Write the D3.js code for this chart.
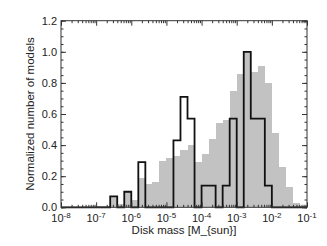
<!DOCTYPE html>
<html>
<head>
<meta charset="utf-8">
<script src="https://cdn.jsdelivr.net/npm/d3@7"></script>
<style>
  body { margin: 0; background: #fff; }
  text { font-family: "Liberation Sans", Arial, sans-serif; fill: #222; }
</style>
</head>
<body>
<script>
// bin left edges (log10 of disk mass), bins are 0.2 dex wide
let binLeft = [-8.0, -7.8, -7.6, -7.4, -7.2, -7.0, -6.8, -6.6, -6.4, -6.2,
               -6.0, -5.8, -5.6, -5.4, -5.2, -5.0, -4.8, -4.6, -4.4, -4.2,
               -4.0, -3.8, -3.6, -3.4, -3.2, -3.0, -2.8, -2.6, -2.4, -2.2,
               -2.0, -1.8, -1.6, -1.4, -1.2]
let binWidth = 0.2

// filled grey histogram
let greyValues = [0, 0, 0, 0, 0, 0.01, 0.01, 0.07, 0.02, 0.10,
                  0.05, 0.19, 0.15, 0.16, 0.30, 0.32, 0.33, 0.37, 0.40, 0.29,
                  0.34, 0.44, 0.54, 0.56, 0.75, 0.86, 1.00, 0.87, 0.91, 0.80,
                  0.48, 0.26, 0.13, 0.03, 0.01]

// black outline histogram
let blackValues = [0, 0, 0, 0, 0, 0, 0, 0.07, 0, 0.10,
                   0, 0.29, 0, 0, 0, 0, 0.43, 0.71, 0.57, 0,
                   0.14, 0.14, 0, 0.14, 0.57, 0, 1.00, 0.57, 0.57, 0.14,
                   0, 0, 0, 0, 0]

let xDecades = [1e-8, 1e-7, 1e-6, 1e-5, 1e-4, 1e-3, 1e-2, 1e-1]
let xExponents = ["-8", "-7", "-6", "-5", "-4", "-3", "-2", "-1"]
let yTicks = [0, 0.2, 0.4, 0.6, 0.8, 1.0, 1.2]
let xTitle = "Disk mass [M_{sun}]"
let yTitle = "Normalized number of models"

let width = 327, height = 246
let margin = { top: 20.7, left: 61, right: 20, bottom: 38.7 }

let svg = d3.select("body")
  .append("svg")
  .attr("width", width)
  .attr("height", height)

let x = d3.scaleLog().domain([1e-8, 1e-1]).range([margin.left, width - margin.right])
let y = d3.scaleLinear().domain([0, 1.2]).range([height - margin.bottom, margin.top])

// grey bars
svg.append("g")
  .selectAll("rect")
  .data(binLeft)
  .join("rect")
  .attr("x", d => x(Math.pow(10, d)))
  .attr("width", d => x(Math.pow(10, d + binWidth)) - x(Math.pow(10, d)))
  .attr("y", (d, i) => y(greyValues[i]))
  .attr("height", (d, i) => y(0) - y(greyValues[i]))
  .attr("fill", "#c2c2c2")
  .attr("shape-rendering", "crispEdges")

// black step outline
let steps = binLeft.map((d, i) => [d, blackValues[i]])
steps.push([binLeft[binLeft.length - 1] + binWidth, blackValues[blackValues.length - 1]])
let stepLine = d3.line()
  .x(d => x(Math.pow(10, d[0])))
  .y(d => y(d[1]))
  .curve(d3.curveStepAfter)

svg.append("path")
  .datum(steps)
  .attr("d", stepLine)
  .attr("fill", "none")
  .attr("stroke", "#111")
  .attr("stroke-width", 1.8)

// minor ticks
let xMinor = []
xDecades.slice(0, -1).forEach(d => {
  for (let k = 2; k <= 9; k++) xMinor.push(d * k)
})
let yMinor = d3.range(0, 1.2001, 0.05)

function styleAxis(g) {
  g.select(".domain").remove()
  g.selectAll("line").attr("stroke", "#333")
  g.selectAll("text").remove()
}

svg.append("g").attr("transform", `translate(0,${y(0)})`)
  .call(d3.axisBottom(x).tickValues(xDecades).tickSize(-5)).call(styleAxis)
svg.append("g").attr("transform", `translate(0,${y(0)})`)
  .call(d3.axisBottom(x).tickValues(xMinor).tickSize(-2.5)).call(styleAxis)
svg.append("g").attr("transform", `translate(0,${y(1.2)})`)
  .call(d3.axisTop(x).tickValues(xDecades).tickSize(-5)).call(styleAxis)
svg.append("g").attr("transform", `translate(0,${y(1.2)})`)
  .call(d3.axisTop(x).tickValues(xMinor).tickSize(-2.5)).call(styleAxis)

svg.append("g").attr("transform", `translate(${x(1e-8)},0)`)
  .call(d3.axisLeft(y).tickValues(yTicks).tickSize(-5)).call(styleAxis)
svg.append("g").attr("transform", `translate(${x(1e-8)},0)`)
  .call(d3.axisLeft(y).tickValues(yMinor).tickSize(-2.5)).call(styleAxis)
svg.append("g").attr("transform", `translate(${x(1e-1)},0)`)
  .call(d3.axisRight(y).tickValues(yTicks).tickSize(-5)).call(styleAxis)
svg.append("g").attr("transform", `translate(${x(1e-1)},0)`)
  .call(d3.axisRight(y).tickValues(yMinor).tickSize(-2.5)).call(styleAxis)

// frame
svg.append("rect")
  .attr("x", x(1e-8))
  .attr("y", y(1.2))
  .attr("width", x(1e-1) - x(1e-8))
  .attr("height", y(0) - y(1.2))
  .attr("fill", "none")
  .attr("stroke", "#333")
  .attr("stroke-width", 1)

// x tick labels 10^n
let xl = svg.append("g")
  .selectAll("text")
  .data(xDecades)
  .join("text")
  .attr("x", d => x(d))
  .attr("y", y(0) + 15)
  .attr("text-anchor", "middle")
  .attr("font-size", 11)
xl.append("tspan").text("10")
xl.append("tspan").attr("dy", -4).attr("font-size", 8).text((d, i) => xExponents[i])

// y tick labels
svg.append("g")
  .selectAll("text")
  .data(yTicks)
  .join("text")
  .attr("x", x(1e-8) - 4)
  .attr("y", d => y(d))
  .attr("dy", "0.35em")
  .attr("text-anchor", "end")
  .attr("font-size", 11)
  .text(d => d.toFixed(1))

// titles
svg.append("text")
  .attr("x", (x(1e-8) + x(1e-1)) / 2)
  .attr("y", 234)
  .attr("text-anchor", "middle")
  .attr("font-size", 11.5)
  .text(xTitle)

svg.append("text")
  .attr("transform", `translate(33.5,${(y(0) + y(1.2)) / 2}) rotate(-90)`)
  .attr("text-anchor", "middle")
  .attr("font-size", 11.5)
  .text(yTitle)
</script>
</body>
</html>
